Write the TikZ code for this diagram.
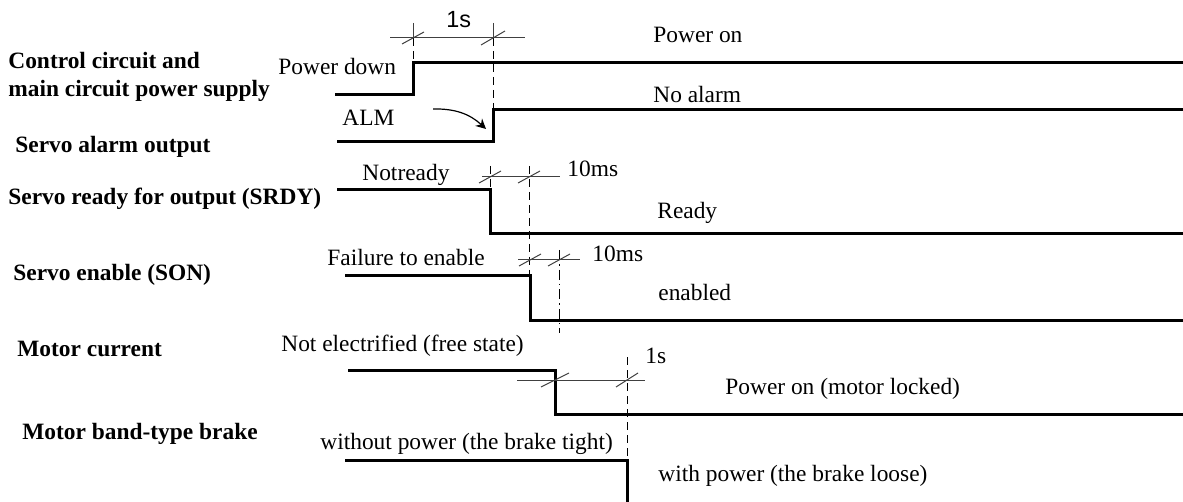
\documentclass[tikz,border=0pt]{standalone}
\usepackage{fontspec}
\setmainfont{Liberation Serif}
\newfontfamily\sansfnt{Liberation Sans}
\usetikzlibrary{arrows.meta}
\tikzset{
    lbl/.style={inner sep=0pt,anchor=base west,font=\fontsize{11.7}{14}\selectfont\bfseries},
    txt/.style={inner sep=0pt,anchor=base west,font=\fontsize{11.7}{14}\selectfont},
    sig/.style={line width=1.5pt,line join=miter},
    dimln/.style={line width=0.5pt,black!75},
    vdash/.style={line width=0.5pt,dash pattern=on 4pt off 2.5pt},
    vdashdot/.style={line width=0.5pt,dash pattern=on 5pt off 2pt on 0.8pt off 2pt},
}

\begin{document}
\begin{tikzpicture}[x=0.5pt,y=-0.5pt]
\useasboundingbox (0,0) rectangle (1183,502);
\node[lbl] (l1a) at (8,69) {Control circuit and};
\node[lbl] (l1b) at (8,97) {main circuit power supply};
\node[lbl] (l2) at (15,153) {Servo alarm output};
\node[lbl] (l3) at (8,205) {Servo ready for output (SRDY)};
\node[lbl] (l4) at (13,280) {Servo enable (SON)};
\node[lbl] (l5) at (17,356) {Motor current};
\node[lbl] (l6) at (22,439) {Motor band-type brake};
\node[txt] (t1a) at (278,75) {Power down};
\node[txt] (t1b) at (653,43) {Power on};
\node[txt] (t2a) at (342,126) {ALM};
\node[txt] (t2b) at (653,103) {No alarm};
\node[txt] (t3a) at (362,181) {Notready};
\node[txt] (t3b) at (657,219) {Ready};
\node[txt] (t4a) at (327,266) {Failure to enable};
\node[txt] (t4b) at (658,300) {enabled};
\node[txt] (t5a) at (281,351) {Not electrified (free state)};
\node[txt] (t5b) at (725,394) {Power on (motor locked)};
\node[txt] (t6a) at (320,449) {without power (the brake tight)};
\node[txt] (t6b) at (658,481) {with power (the brake loose)};
\node[txt,font=\fontsize{11.7}{14}\sansfnt] (d1) at (446,28) {1s};
\node[txt] (d2) at (567,177) {10ms};
\node[txt] (d3) at (592,262) {10ms};
\node[txt] (d4) at (645,363) {1s};
\draw[sig] (335,95) -- (413,95) -- (413,63) -- (1183,63);
\draw[sig] (337,142) -- (493,142) -- (493,110) -- (1183,110);
\draw[sig] (337,190) -- (490,190) -- (490,234) -- (1183,234);
\draw[sig] (345,276) -- (530,276) -- (530,320) -- (1183,320);
\draw[sig] (348,370) -- (555,370) -- (555,414) -- (1183,414);
\draw[sig] (345,460) -- (627,460) -- (627,502);
\draw[dimln] (390,38) -- (525,38); \draw[dimln] (413,23) -- (413,38); \draw[dimln] (493,23) -- (493,38);
\draw[vdash] (413,38) -- (413,63); \draw[vdash] (493,38) -- (493,110);
\draw[dimln] (413,38) ++(-11,6) -- ++(22,-12); \draw[dimln] (493,38) ++(-12,7) -- ++(24,-14);
\draw[dimln] (482,177) -- (560,177);
\draw[vdash] (490,166) -- (490,190); \draw[vdash] (529,166) -- (529,276);
\draw[dimln] (490,177) ++(-11,6) -- ++(22,-12); \draw[dimln] (529,177) ++(-11,6) -- ++(22,-12);
\draw[dimln] (518,260) -- (580,260);
\draw[vdashdot] (559,250) -- (559,333);
\draw[dimln] (530,260) ++(-11,6) -- ++(22,-12); \draw[dimln] (559,260) ++(-11,6) -- ++(22,-12);
\draw[dimln] (517,380) -- (645,380);
\draw[vdash] (627,357) -- (627,460);
\draw[dimln] (555,380) ++(-14,7) -- ++(28,-14); \draw[dimln] (627,380) ++(-11,7) -- ++(22,-14);
\coordinate (a1) at (433,109);
\coordinate (a2) at (486,129);
\draw[line width=0.6pt,-{Stealth[length=5pt,width=5pt]}] (a1) to[bend left=22] (a2);
\end{tikzpicture}
\end{document}
